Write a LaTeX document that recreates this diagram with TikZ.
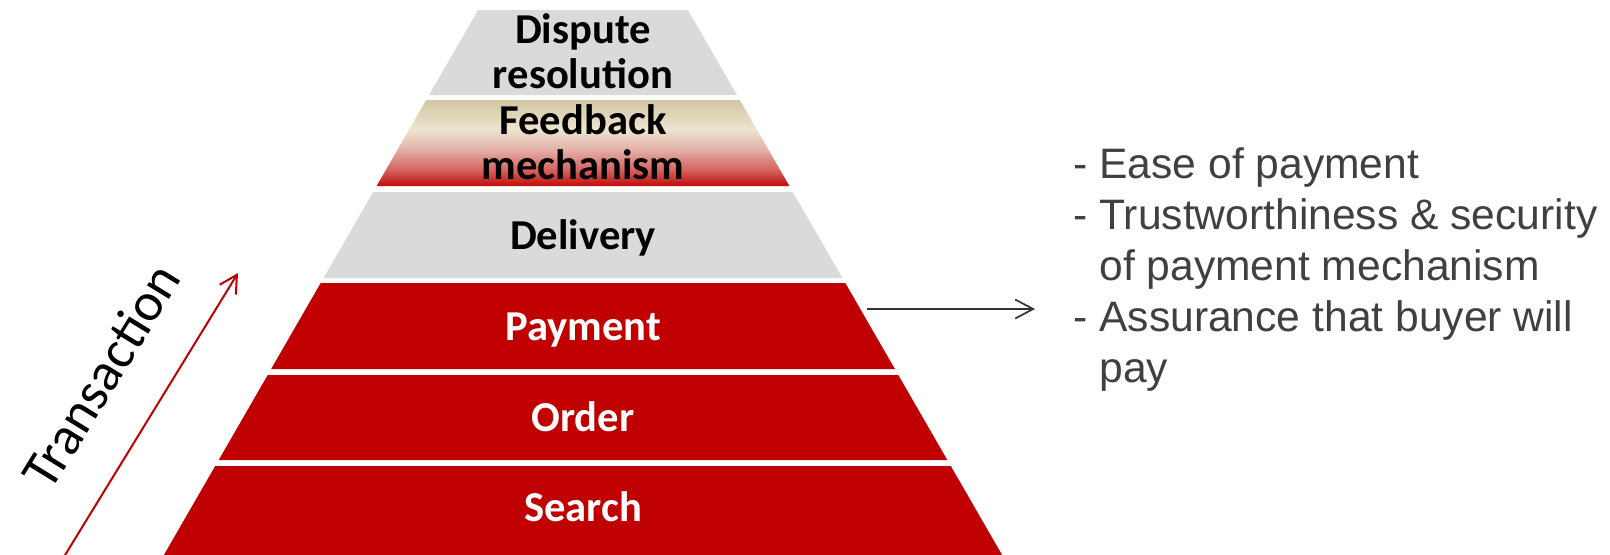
\documentclass[tikz,border=0pt]{standalone}
\usepackage{fontspec}
\setmainfont{Carlito}
\newfontfamily\arialf{Liberation Sans}
\usetikzlibrary{arrows.meta}
\definecolor{pyrred}{HTML}{C00000}
\definecolor{pyrgray}{HTML}{DADADA}
\definecolor{txtgray}{HTML}{404040}
\definecolor{fbtan}{HTML}{D2C6A2}
\definecolor{fbcream}{HTML}{ECE5CF}
\definecolor{fbpink}{HTML}{E4AFA6}
\definecolor{fbmid}{HTML}{D4605C}
\definecolor{fbred}{HTML}{C00A0A}
\pgfdeclareverticalshading{fbshade}{100bp}{color(0bp)=(fbred); color(25bp)=(fbred); color(34bp)=(fbmid); color(46bp)=(fbpink); color(58bp)=(fbcream); color(75bp)=(fbtan); color(100bp)=(fbtan)}
\tikzset{
  lbl/.style={font=\fontsize{21.3}{22.6}\selectfont\bfseries, align=center, inner sep=0pt, text=black},
  lblw/.style={lbl, text=white},
  listtxt/.style={font=\arialf\fontsize{21.3}{25.6}\selectfont, text=txtgray, anchor=base west, inner sep=0pt},
  garrow/.style={draw=black!80, line width=0.85pt, -{Straight Barb[length=9pt,width=9.5pt,line width=0.85pt]}},
  rarrow/.style={draw=pyrred, line width=1pt, -{Straight Barb[length=8.75pt,width=9.5pt,line width=1pt]}}
}
\begin{document}
\begin{tikzpicture}[x=0.5pt,y=-0.5pt]
\useasboundingbox (0,0) rectangle (1610,554);
% layers
\fill[pyrgray] (478.1,10) -- (687.9,10) -- (736.9,95) -- (429.1,95) -- cycle;
\shade[shading=fbshade] (426.2,100) -- (739.8,100) -- (789.4,186) -- (376.6,186) -- cycle;
\fill[pyrgray] (373.2,192) -- (792.8,192) -- (842.4,278) -- (323.6,278) -- cycle;
\fill[pyrred] (320.7,283) -- (845.3,283) -- (894.9,369) -- (271.1,369) -- cycle;
\fill[pyrred] (267.7,375) -- (898.3,375) -- (947.3,460) -- (218.7,460) -- cycle;
\fill[pyrred] (215.2,466) -- (950.8,466) -- (1005,560) -- (161,560) -- cycle;
% labels
\node[lbl] (dispute) at (583,51) {Dispute\\resolution};
\node[lbl] (feedback) at (583,142) {Feedback\\mechanism};
\node[lbl] (delivery) at (583,238) {Delivery};
\node[lblw] (payment) at (583,330) {Payment};
\node[lblw] (order) at (583,417) {Order};
\node[lblw] (search) at (583,507) {Search};
% transaction arrow
\coordinate (tstart) at (62,560);
\coordinate (ttip) at (238,273);
\draw[rarrow] (tstart) -- (ttip);
\node[font=\fontsize{27}{32}\selectfont, rotate=58.4, inner sep=0pt] (trans) at (101,376) {Transaction};
% payment arrow
\coordinate (pstart) at (867,309);
\coordinate (pend) at (1035,309);
\draw[garrow] (pstart) -- (pend);
% list
\node[listtxt] (l1) at (1073,178) {- Ease of payment};
\node[listtxt] (l2) at (1073,229.2) {- Trustworthiness \& security};
\node[listtxt] (l3) at (1073,280.4) {\phantom{- }of payment mechanism};
\node[listtxt] (l4) at (1073,331.6) {- Assurance that buyer will};
\node[listtxt] (l5) at (1073,382.8) {\phantom{- }pay};
\end{tikzpicture}
\end{document}
